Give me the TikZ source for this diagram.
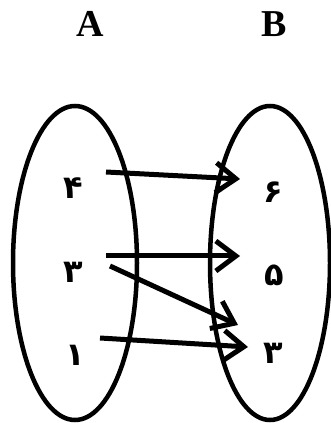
\documentclass[tikz,border=0pt]{standalone}
\usepackage{fontspec}
\setmainfont{Liberation Serif}
\newfontfamily\fadigits[Script=Arabic]{DejaVu Sans}
\usetikzlibrary{arrows.meta}

\def\setrx{62}
\def\setry{157}
\tikzstyle{set} = [draw=black,
line width=4.5pt]
\tikzstyle{setname} = [font=\fontsize{38}{40}\selectfont\bfseries]
\tikzstyle{elem} = [font=\fadigits\fontsize{32}{34}\selectfont\bfseries,
inner sep=0pt]
\tikzstyle{map} = [line width=5pt,
-{Straight Barb[length=20pt,width=30pt,line width=5pt]}]

\begin{document}
\begin{tikzpicture}[x=1pt,y=1pt]
    \useasboundingbox (0,0) rectangle (331,423);
    %%%%%%%%%%%%%%%%%%%%%%%%%%%%%%%%%%%%%%%%
    % Sets
    %%%%%%%%%%%%%%%%%%%%%%%%%%%%%%%%%%%%%%%%
    \draw[set] (75,160) ellipse ({\setrx} and {\setry});
    \draw[set] (270,160) ellipse ({\setrx-2} and {\setry});
    \node (A) [setname] at (90,399) {A};
    \node (B) [setname] at (274,399) {B};
    %%%%%%%%%%%%%%%%%%%%%%%%%%%%%%%%%%%%%%%%
    % Elements
    %%%%%%%%%%%%%%%%%%%%%%%%%%%%%%%%%%%%%%%%
    \node (l4) [elem] at (73,235) {۴};
    \node (l3) [elem] at (73,151) {۳};
    \node (l1) [elem] at (75,68) {۱};
    \node (r6) [elem] at (273,231) {۶};
    \node (r5) [elem] at (274,148) {۵};
    \node (r3) [elem] at (273,70) {۳};
    %%%%%%%%%%%%%%%%%%%%%%%%%%%%%%%%%%%%%%%%
    % Mapping
    %%%%%%%%%%%%%%%%%%%%%%%%%%%%%%%%%%%%%%%%
    \draw[map] ([xshift=33pt,yshift=16pt]l4.center) -- ([xshift=-33pt,yshift=13pt]r6.center);
    \draw[map] ([xshift=33pt,yshift=16pt]l3.center) -- ([xshift=-34pt,yshift=19pt]r5.center);
    \draw[map] ([xshift=37pt,yshift=6pt]l3.center) -- ([xshift=-35pt,yshift=28pt]r3.center);
    \draw[map] ([xshift=25pt,yshift=17pt]l1.center) -- ([xshift=-25pt,yshift=6pt]r3.center);
\end{tikzpicture}
\end{document}
